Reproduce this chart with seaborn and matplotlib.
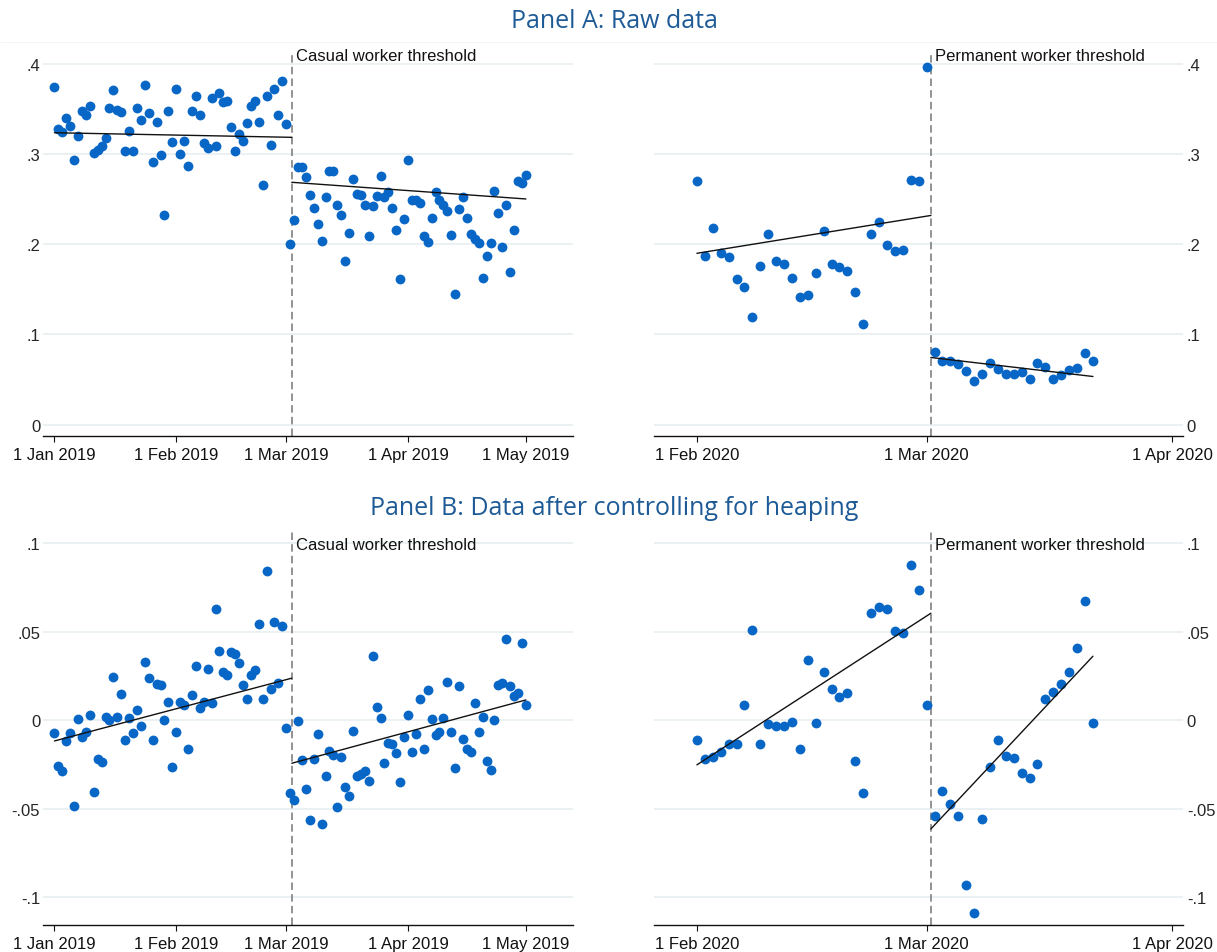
import numpy as np
import pandas as pd
import matplotlib
matplotlib.use("Agg")
import matplotlib.pyplot as plt
import matplotlib.dates as mdates
from matplotlib.lines import Line2D
import seaborn as sns

# ---------------- data ----------------
# Panel A, 2019 (casual worker threshold)
raw19_pre_start = "2019-01-01"
raw19_pre = [.375, .328, .325, .340, .331, .294, .320, .348, .343, .354,
             .301, .305, .309, .318, .351, .371, .349, .347, .304, .326,
             .304, .351, .338, .377, .346, .291, .336, .299, .233, .348,
             .314, .372, .300, .315, .287, .348, .365, .344, .312, .307,
             .362, .309, .368, .358, .359, .330, .304, .322, .315, .335,
             .353, .359, .336, .266, .365, .310, .372, .344, .381, .334,
             .200]
raw19_post_start = "2019-03-03"
raw19_post = [.227, .286, .286, .275, .255, .240, .222, .204, .252, .281,
              .281, .244, .232, .181, .212, .273, .256, .255, .244, .209,
              .243, .254, .276, .253, .258, .240, .216, .161, .228,
              .294, .249, .249, .246, .209, .202, .229, .258, .249, .244,
              .237, .210, .145, .239, .252, .229, .211, .206, .201, .163,
              .187, .201, .259, .235, .197, .244, .169, .216, .270, .268,
              .277]
raw19_fit_pre = [.3238, .3187]
raw19_fit_post = [.2688, .2503]

# Panel A, 2020 (permanent worker threshold)
raw20_pre_start = "2020-02-01"
raw20_pre = [.270, .187, .218, .190, .186, .161, .153, .119, .176, .211,
             .181, .178, .163, .141, .144, .168, .215, .178, .175, .170,
             .147, .112, .211, .225, .199, .193, .194, .271, .270, .397]
raw20_post_start = "2020-03-02"
raw20_post = [.080, .071, .070, .067, .059, .048, .056, .068, .062, .056,
              .056, .058, .051, .068, .064, .051, .055, .061, .063, .079,
              .071]
raw20_fit_pre = [.190, .232]
raw20_fit_post = [.0744, .0533]

# Panel B, 2019
adj19_pre = [-.0074, -.0260, -.0288, -.0117, -.0074, -.0486, .0009, -.0096, -.0068, .0030,
             -.0407, -.0217, -.0238, .0017, .0002, .0247, .0021, .0151, -.0109, .0013,
             -.0070, .0058, -.0034, .0328, .0239, -.0111, .0205, .0200, .0000, .0104,
             -.0262, -.0064, .0104, .0089, -.0164, .0145, .0309, .0068, .0104, .0287,
             .0098, .0631, .0390, .0270, .0258, .0386, .0375, .0326, .0200, .0123,
             .0256, .0283, .0543, .0121, .0843, .0179, .0558, .0211, .0535, -.0041,
             -.0411]
adj19_post = [-.0449, -.0002, -.0226, -.0388, -.0562, -.0217, -.0075, -.0588, -.0313, -.0172,
              -.0194, -.0490, -.0209, -.0375, -.0426, -.0058, -.0317, -.0303, -.0285, -.0345,
              .0366, .0077, .0011, -.0239, -.0126, -.0134, -.0183, -.0349, -.0096,
              .0032, -.0177, -.0075, .0119, -.0162, .0173, .0008, -.0085, -.0068, .0013,
              .0217, -.0064, -.0268, .0192, -.0106, -.0162, -.0181, .0100, -.0064, .0021,
              -.0232, -.0281, .0000, .0200, .0209, .0462, .0196, .0139, .0155, .0439,
              .0087]
adj19_fit_pre = [-.0117, .0238]
adj19_fit_post = [-.0243, .0115]

# Panel B, 2020
adj20_pre = [-.0109, -.0218, -.0209, -.0177, -.0132, -.0136, .0085, .0512, -.0132, -.0023,
             -.0030, -.0030, -.0011, -.0164, .0343, -.0017, .0275, .0177, .0134, .0154,
             -.0232, -.0412, .0606, .0638, .0631, .0505, .0495, .0876, .0736, .0089]
adj20_post = [-.0539, -.0397, -.0476, -.0539, -.0932, -.1090, -.0556, -.0264, -.0109, -.0203,
              -.0211, -.0296, -.0328, -.0247, .0119, .0160, .0205, .0271, .0407, .0676,
              -.0017]
adj20_fit_pre = [-.0252, .0605]
adj20_fit_post = [-.0614, .0362]

threshold19 = "2019-03-02 10:00"
threshold20 = "2020-03-01 13:00"
end19 = "2019-05-01"
end20 = "2020-03-22"

ticks19 = ["2019-01-01", "2019-02-01", "2019-03-01", "2019-04-01", "2019-05-01"]
ticklabels19 = ["1 Jan 2019", "1 Feb 2019", "1 Mar 2019", "1 Apr 2019", "1 May 2019"]
ticks20 = ["2020-02-01", "2020-03-01", "2020-04-01"]
ticklabels20 = ["1 Feb 2020", "1 Mar 2020", "1 Apr 2020"]

yticks_raw = [0, .1, .2, .3, .4]
yticklabels_raw = ["0", ".1", ".2", ".3", ".4"]
yticks_adj = [-.1, -.05, 0, .05, .1]
yticklabels_adj = ["-.1", "-.05", "0", ".05", ".1"]

label19 = "Casual worker threshold"
label20 = "Permanent worker threshold"
titleA = "Panel A: Raw data"
titleB = "Panel B: Data after controlling for heaping"

# ---------------- style ----------------
sns.set_style("white")
plt.rcParams["font.family"] = ["Liberation Sans", "DejaVu Sans"]

W, H = 1217, 953
fig = plt.figure(figsize=(W / 100, H / 100), dpi=100)

POINT = "#0866c6"
GRID = "#e6edf0"
TITLE = "#1d5a96"


def frac(l, t, r, b):
    return [l / W, 1 - b / H, (r - l) / W, (b - t) / H]


def series_df(start, values):
    return pd.DataFrame({"date": pd.date_range(start, periods=len(values), freq="D"),
                         "value": values})


def draw(ax, pre_start, pre, post_start, post, fit_pre, fit_post, thr, end,
         xlim, ylim, xt, xtl, yt, ytl, label, label_y, right):
    thr = pd.Timestamp(thr)
    for yv in yt:
        ax.axhline(yv, color=GRID, lw=1.1, zorder=0)
    d_pre = series_df(pre_start, pre)
    d_post = series_df(post_start, post)
    for d in (d_pre, d_post):
        sns.scatterplot(data=d, x="date", y="value", ax=ax, color=POINT, s=50,
                        linewidth=0, zorder=3, legend=False)
    f_pre = pd.DataFrame({"date": [pd.Timestamp(pre_start), thr], "value": fit_pre})
    f_post = pd.DataFrame({"date": [thr, pd.Timestamp(end)], "value": fit_post})
    for f in (f_pre, f_post):
        sns.lineplot(data=f, x="date", y="value", ax=ax, color="#111111", lw=1.0,
                     zorder=4, legend=False)
    ax.axvline(thr, color="#808080", lw=1.2, ls=(0, (4.5, 2.5)), zorder=2)
    ax.annotate(label, xy=(thr, label_y), xytext=(3, 0), textcoords="offset points",
                va="center", ha="left", fontsize=12, color="#111111", annotation_clip=False)
    ax.set_xlim(pd.Timestamp(xlim[0]), pd.Timestamp(xlim[1]))
    ax.set_ylim(*ylim)
    ax.set_xticks([pd.Timestamp(t) for t in xt])
    ax.set_xticklabels(xtl, fontsize=12)
    ax.set_yticks(yt)
    ax.set_yticklabels(ytl, fontsize=12)
    ax.set_xlabel("")
    ax.set_ylabel("")
    for s in ("top", "left", "right"):
        ax.spines[s].set_visible(False)
    ax.spines["bottom"].set_color("#111111")
    ax.spines["bottom"].set_linewidth(1.0)
    ax.tick_params(axis="x", direction="out", length=4.3, width=0.8, pad=3.5,
                   colors="#111111", bottom=True)
    if right:
        ax.yaxis.tick_right()
        ax.tick_params(axis="y", length=0, pad=3, labelright=True, labelleft=False)
    else:
        ax.tick_params(axis="y", length=0, pad=2)
    ax.grid(False)


top = (52, 436.7)
bot = (533, 926)
axA1 = fig.add_axes(frac(43, top[0], 572.7, top[1]))
axA2 = fig.add_axes(frac(654, top[0], 1182.7, top[1]))
axB1 = fig.add_axes(frac(43, bot[0], 572.7, bot[1]))
axB2 = fig.add_axes(frac(654, bot[0], 1182.7, bot[1]))

xlim19 = ("2018-12-29 02:00", "2019-05-12 22:00")
xlim20 = ("2020-01-26 14:00", "2020-04-02 08:00")
ylim_raw = (-.0124, .4145)
ylim_adj = (-.1157, .1064)

draw(axA1, raw19_pre_start, raw19_pre, raw19_post_start, raw19_post,
     raw19_fit_pre, raw19_fit_post, threshold19, end19, xlim19, ylim_raw,
     ticks19, ticklabels19, yticks_raw, yticklabels_raw, label19, .410, False)
draw(axA2, raw20_pre_start, raw20_pre, raw20_post_start, raw20_post,
     raw20_fit_pre, raw20_fit_post, threshold20, end20, xlim20, ylim_raw,
     ticks20, ticklabels20, yticks_raw, yticklabels_raw, label20, .410, True)
draw(axB1, raw19_pre_start, adj19_pre, raw19_post_start, adj19_post,
     adj19_fit_pre, adj19_fit_post, threshold19, end19, xlim19, ylim_adj,
     ticks19, ticklabels19, yticks_adj, yticklabels_adj, label19, .0993, False)
draw(axB2, raw20_pre_start, adj20_pre, raw20_post_start, adj20_post,
     adj20_fit_pre, adj20_fit_post, threshold20, end20, xlim20, ylim_adj,
     ticks20, ticklabels20, yticks_adj, yticklabels_adj, label20, .0993, True)

fig.text(614 / W, 1 - 22 / H, titleA, ha="center", va="center", fontsize=18,
         color=TITLE, family=["Open Sans", "DejaVu Sans"])
fig.text(614 / W, 1 - 509 / H, titleB, ha="center", va="center", fontsize=18,
         color=TITLE, family=["Open Sans", "DejaVu Sans"])
fig.add_artist(Line2D([0, 1], [1 - 42.5 / H, 1 - 42.5 / H], transform=fig.transFigure,
                      color="#f4f4f4", lw=0.7))

fig.savefig("out.png", dpi=100, facecolor="white")
